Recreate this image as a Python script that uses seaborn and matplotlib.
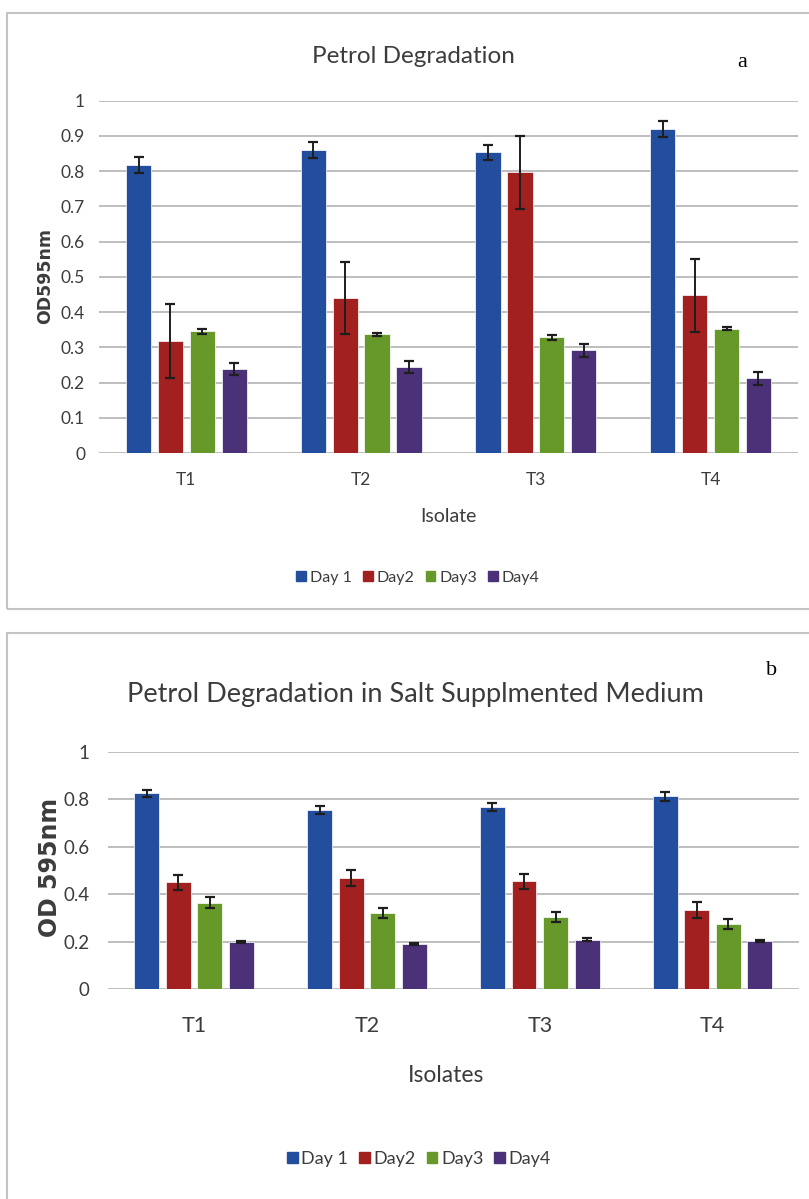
import matplotlib
matplotlib.use("Agg")
import matplotlib.pyplot as plt
from matplotlib.patches import Rectangle
import pandas as pd
import seaborn as sns

# ---- data -------------------------------------------------------------
isolates = ["T1", "T2", "T3", "T4"]
days = ["Day 1", "Day2", "Day3", "Day4"]

# Panel a: petrol degradation (OD 595 nm), mean and error per day
petrol_day1 = [0.818, 0.860, 0.853, 0.920]
petrol_day2 = [0.318, 0.440, 0.797, 0.448]
petrol_day3 = [0.345, 0.337, 0.328, 0.353]
petrol_day4 = [0.238, 0.245, 0.291, 0.212]
petrol_err1 = [0.022, 0.022, 0.022, 0.022]
petrol_err2 = [0.104, 0.102, 0.104, 0.104]
petrol_err3 = [0.007, 0.005, 0.008, 0.005]
petrol_err4 = [0.017, 0.017, 0.019, 0.018]

# Panel b: petrol degradation in salt supplemented medium
salt_day1 = [0.825, 0.755, 0.766, 0.812]
salt_day2 = [0.450, 0.468, 0.455, 0.333]
salt_day3 = [0.365, 0.321, 0.306, 0.275]
salt_day4 = [0.198, 0.191, 0.209, 0.202]
salt_err1 = [0.015, 0.018, 0.017, 0.018]
salt_err2 = [0.031, 0.034, 0.031, 0.033]
salt_err3 = [0.022, 0.020, 0.021, 0.021]
salt_err4 = [0.005, 0.005, 0.005, 0.005]

yticks_a = [0, 0.1, 0.2, 0.3, 0.4, 0.5, 0.6, 0.7, 0.8, 0.9, 1]
ytick_labels_a = ["0", "0.1", "0.2", "0.3", "0.4", "0.5", "0.6", "0.7", "0.8", "0.9", "1"]
yticks_b = [0, 0.2, 0.4, 0.6, 0.8, 1]
ytick_labels_b = ["0", "0.2", "0.4", "0.6", "0.8", "1"]

colors = {"Day 1": "#234E9E", "Day2": "#A2201F", "Day3": "#66982A", "Day4": "#4B3178"}

TEXT = "#3C3C3C"

sns.set_theme(style="white")
plt.rcParams["font.family"] = ["Lato", "DejaVu Sans"]


def long_table(series):
    rows = []
    for day, vals in zip(days, series):
        for iso, v in zip(isolates, vals):
            rows.append({"isolate": iso, "day": day, "od": v})
    return pd.DataFrame(rows)


W, H = 809, 1199
fig = plt.figure(figsize=(W / 100, H / 100), dpi=100)


def fx(px):
    return px / W


def fy(py):
    return 1 - py / H


def draw_panel(rect, series, errors, yticks, ylabels, tick_fs, ypad, xpad, xt_fs):
    ax = fig.add_axes(rect)
    df = long_table(series)
    sns.barplot(data=df, x="isolate", y="od", hue="day", palette=colors,
                order=isolates, hue_order=days, width=0.73, gap=0.21,
                saturation=1, errorbar=None, edgecolor="white", linewidth=0.5,
                legend=False, ax=ax, zorder=3)
    for container, err in zip(ax.containers, errors):
        xs = [p.get_x() + p.get_width() / 2 for p in container.patches]
        hs = [p.get_height() for p in container.patches]
        ax.errorbar(xs, hs, yerr=err, fmt="none", ecolor="#1E1E1E",
                    elinewidth=1.4, capsize=3.5, capthick=1.6, zorder=4)
    ax.set_ylim(0, 1)
    ax.set_xlim(-0.5, 3.5)
    ax.set_yticks(yticks)
    ax.set_yticklabels(ylabels)
    ax.yaxis.grid(True, color="#BEBEBE", linewidth=1.4, zorder=0)
    ax.set_axisbelow(True)
    for s in ax.spines.values():
        s.set_visible(False)
    ax.tick_params(axis="y", length=0, pad=ypad, labelsize=tick_fs, labelcolor=TEXT)
    ax.tick_params(axis="x", length=0, pad=xpad, labelsize=xt_fs, labelcolor=TEXT)
    ax.set_xlabel("")
    ax.set_ylabel("")
    return ax


# panel borders
fig.add_artist(Rectangle((fx(7), fy(609)), fx(830) - fx(7), fy(13) - fy(609),
                         transform=fig.transFigure, fill=False,
                         edgecolor="#C4C4C4", linewidth=1.5))
fig.add_artist(Rectangle((fx(7), fy(1230)), fx(830) - fx(7), fy(633) - fy(1230),
                         transform=fig.transFigure, fill=False,
                         edgecolor="#C4C4C4", linewidth=1.5))

# ---- panel a ------------------------------------------------------------
ax_a = draw_panel([fx(99), fy(453), fx(798) - fx(99), fy(100.7) - fy(453)],
                  [petrol_day1, petrol_day2, petrol_day3, petrol_day4],
                  [petrol_err1, petrol_err2, petrol_err3, petrol_err4],
                  yticks_a, ytick_labels_a, 12.5, 10, 14, 12.5)
fig.text(fx(413), fy(63), "Petrol Degradation", ha="center", va="baseline",
         fontsize=17.5, color=TEXT)
fig.text(fx(742), fy(67), "a", ha="center", va="baseline", fontsize=16,
         family="Liberation Serif", color="black")
fig.text(fx(45), fy(276), "OD595nm", rotation=90, ha="center", va="center",
         fontsize=12.5, fontweight="bold", family="DejaVu Sans", color=TEXT)
fig.text(fx(448), fy(516), "Isolate", ha="center", va="center",
         fontsize=14, color=TEXT)
handles_a = [plt.Rectangle((0, 0), 1, 1, color=colors[d]) for d in days]
fig.legend(handles_a, days, loc="center", bbox_to_anchor=(fx(418), fy(578)),
           ncol=4, frameon=False, fontsize=11.5, handlelength=0.6,
           handleheight=0.6, handletextpad=0.25, columnspacing=0.7,
           labelcolor=TEXT)

# ---- panel b ------------------------------------------------------------
ax_b = draw_panel([fx(107.7), fy(989.3), fx(799) - fx(107.7), fy(751.7) - fy(989.3)],
                  [salt_day1, salt_day2, salt_day3, salt_day4],
                  [salt_err1, salt_err2, salt_err3, salt_err4],
                  yticks_b, ytick_labels_b, 13.5, 13, 19, 15.5)
fig.text(fx(415), fy(702), "Petrol Degradation in Salt Supplmented Medium",
         ha="center", va="baseline", fontsize=19.5, color=TEXT)
fig.text(fx(772), fy(675), "b", ha="center", va="baseline", fontsize=16,
         family="Liberation Serif", color="black")
fig.text(fx(50), fy(867), "OD 595nm", rotation=90, ha="center", va="center",
         fontsize=17, fontweight="bold", family="DejaVu Sans", color=TEXT)
fig.text(fx(446), fy(1075), "Isolates", ha="center", va="center",
         fontsize=16.5, color=TEXT)
handles_b = [plt.Rectangle((0, 0), 1, 1, color=colors[d]) for d in days]
fig.legend(handles_b, days, loc="center", bbox_to_anchor=(fx(419), fy(1159)),
           ncol=4, frameon=False, fontsize=13, handlelength=0.6,
           handleheight=0.6, handletextpad=0.2, columnspacing=0.6,
           labelcolor=TEXT)

fig.savefig("out.png", dpi=100)
